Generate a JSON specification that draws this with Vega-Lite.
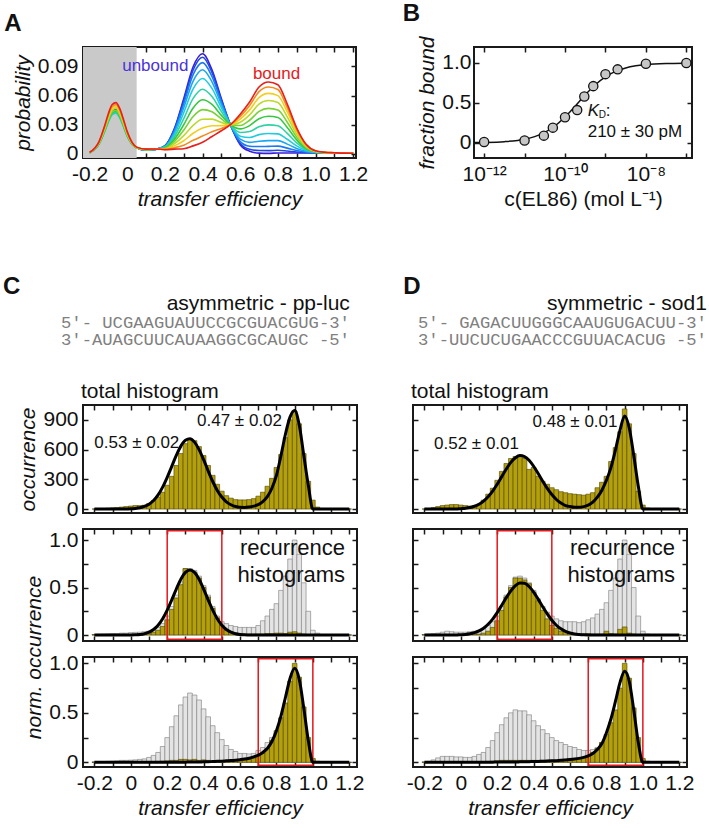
{
 "$schema": "https://vega.github.io/schema/vega-lite/v6.json",
 "background": "white",
 "padding": {"left": 2, "top": 0, "right": 3, "bottom": 3},
 "config": {
  "font": "Liberation Sans",
  "view": {"stroke": "#1a1a1a", "strokeWidth": 2},
  "axis": {"domain": false, "grid": false, "ticks": true, "tickSize": -5, "tickWidth": 1.5, "tickColor": "#1a1a1a",
   "labelFont": "Liberation Sans", "labelFontSize": 21, "labelColor": "#111", "labelFlush": false, "labelOverlap": false, "labelPadding": 10,
   "titleFont": "Liberation Sans", "titleFontSize": 21, "titleFontWeight": "normal", "titleFontStyle": "italic", "titleColor": "#111", "titlePadding": 4},
  "axisY": {"labelPadding": 10},
  "title": {"font": "Liberation Sans", "color": "#111"}
 },
 "datasets": {
  "acurves": [
   {"x":-0.2,"c01":0.0012,"c02":0.0012,"c03":0.0011,"c04":0.0011,"c05":0.0011,"c06":0.0011,"c07":0.0011,"c08":0.0012,"c09":0.0012,"c10":0.0013,"c11":0.0013,"c12":0.0014},
   {"x":-0.15,"c01":0.0109,"c02":0.0106,"c03":0.0104,"c04":0.0101,"c05":0.0099,"c06":0.0101,"c07":0.0104,"c08":0.0106,"c09":0.0111,"c10":0.0116,"c11":0.012,"c12":0.0125},
   {"x":-0.12,"c01":0.0251,"c02":0.0246,"c03":0.024,"c04":0.0235,"c05":0.0229,"c06":0.0235,"c07":0.024,"c08":0.0246,"c09":0.0257,"c10":0.0268,"c11":0.0278,"c12":0.0289},
   {"x":-0.1,"c01":0.036,"c02":0.0352,"c03":0.0345,"c04":0.0337,"c05":0.0329,"c06":0.0337,"c07":0.0345,"c08":0.0352,"c09":0.0368,"c10":0.0384,"c11":0.0399,"c12":0.0415},
   {"x":-0.08,"c01":0.044,"c02":0.043,"c03":0.0421,"c04":0.0411,"c05":0.0402,"c06":0.0411,"c07":0.0421,"c08":0.043,"c09":0.0449,"c10":0.0468,"c11":0.0488,"c12":0.0507},
   {"x":-0.06,"c01":0.0458,"c02":0.0448,"c03":0.0438,"c04":0.0428,"c05":0.0418,"c06":0.0428,"c07":0.0438,"c08":0.0448,"c09":0.0468,"c10":0.0488,"c11":0.0507,"c12":0.0527},
   {"x":-0.04,"c01":0.0406,"c02":0.0397,"c03":0.0388,"c04":0.0379,"c05":0.037,"c06":0.0379,"c07":0.0388,"c08":0.0397,"c09":0.0415,"c10":0.0432,"c11":0.045,"c12":0.0467},
   {"x":-0.02,"c01":0.0307,"c02":0.03,"c03":0.0293,"c04":0.0287,"c05":0.028,"c06":0.0287,"c07":0.0293,"c08":0.03,"c09":0.0313,"c10":0.0327,"c11":0.034,"c12":0.0354},
   {"x":0,"c01":0.0198,"c02":0.0194,"c03":0.0189,"c04":0.0185,"c05":0.0181,"c06":0.0185,"c07":0.0189,"c08":0.0194,"c09":0.0202,"c10":0.0211,"c11":0.0219,"c12":0.0228},
   {"x":0.05,"c01":0.0063,"c02":0.0062,"c03":0.0061,"c04":0.0061,"c05":0.006,"c06":0.0061,"c07":0.0061,"c08":0.0062,"c09":0.0063,"c10":0.0065,"c11":0.0066,"c12":0.0068},
   {"x":0.1,"c01":0.0037,"c02":0.0037,"c03":0.0038,"c04":0.0039,"c05":0.004,"c06":0.0041,"c07":0.0042,"c08":0.0043,"c09":0.0044,"c10":0.0045,"c11":0.0046,"c12":0.0047},
   {"x":0.15,"c01":0.0045,"c02":0.0045,"c03":0.0045,"c04":0.0046,"c05":0.0046,"c06":0.0047,"c07":0.0047,"c08":0.0047,"c09":0.0048,"c10":0.0048,"c11":0.0049,"c12":0.0049},
   {"x":0.2,"c01":0.0082,"c02":0.008,"c03":0.0078,"c04":0.0075,"c05":0.0071,"c06":0.0066,"c07":0.0061,"c08":0.0057,"c09":0.0052,"c10":0.0048,"c11":0.0044,"c12":0.0042},
   {"x":0.25,"c01":0.0257,"c02":0.0249,"c03":0.0236,"c04":0.0219,"c05":0.0198,"c06":0.0173,"c07":0.0148,"c08":0.0125,"c09":0.0102,"c10":0.0081,"c11":0.0062,"c12":0.0047},
   {"x":0.3,"c01":0.0567,"c02":0.0546,"c03":0.0516,"c04":0.0474,"c05":0.0423,"c06":0.0361,"c07":0.0299,"c08":0.0243,"c09":0.0186,"c10":0.0134,"c11":0.0088,"c12":0.0052},
   {"x":0.35,"c01":0.0896,"c02":0.0863,"c03":0.0815,"c04":0.0749,"c05":0.0668,"c06":0.057,"c07":0.0472,"c08":0.0383,"c09":0.0293,"c10":0.0211,"c11":0.0138,"c12":0.0081},
   {"x":0.4,"c01":0.103,"c02":0.0994,"c03":0.0939,"c04":0.0866,"c05":0.0775,"c06":0.0665,"c07":0.0556,"c08":0.0455,"c09":0.0355,"c10":0.0264,"c11":0.0182,"c12":0.0118},
   {"x":0.45,"c01":0.0865,"c02":0.0838,"c03":0.0796,"c04":0.0741,"c05":0.0673,"c06":0.059,"c07":0.0508,"c08":0.0432,"c09":0.0357,"c10":0.0288,"c11":0.0226,"c12":0.0178},
   {"x":0.5,"c01":0.0567,"c02":0.0554,"c03":0.0534,"c04":0.0508,"c05":0.0475,"c06":0.0435,"c07":0.0395,"c08":0.0359,"c09":0.0323,"c10":0.029,"c11":0.026,"c12":0.0237},
   {"x":0.55,"c01":0.0288,"c02":0.0289,"c03":0.029,"c04":0.0291,"c05":0.0292,"c06":0.0294,"c07":0.0296,"c08":0.0297,"c09":0.0299,"c10":0.03,"c11":0.0302,"c12":0.0303},
   {"x":0.6,"c01":0.0093,"c02":0.0106,"c03":0.0124,"c04":0.015,"c05":0.0181,"c06":0.0219,"c07":0.0256,"c08":0.0291,"c09":0.0325,"c10":0.0357,"c11":0.0385,"c12":0.0407},
   {"x":0.65,"c01":0.0026,"c02":0.0046,"c03":0.0077,"c04":0.0117,"c05":0.0168,"c06":0.0229,"c07":0.029,"c08":0.0345,"c09":0.0401,"c10":0.0452,"c11":0.0498,"c12":0.0533},
   {"x":0.7,"c01":0.0006,"c02":0.0033,"c03":0.0074,"c04":0.0129,"c05":0.0197,"c06":0.0279,"c07":0.0361,"c08":0.0436,"c09":0.0511,"c10":0.0579,"c11":0.064,"c12":0.0688},
   {"x":0.75,"c01":0.0004,"c02":0.0032,"c03":0.0076,"c04":0.0135,"c05":0.0209,"c06":0.0297,"c07":0.0386,"c08":0.0467,"c09":0.0548,"c10":0.0622,"c11":0.0688,"c12":0.074},
   {"x":0.8,"c01":0.0008,"c02":0.0036,"c03":0.0078,"c04":0.0135,"c05":0.0205,"c06":0.0289,"c07":0.0374,"c08":0.0451,"c09":0.0528,"c10":0.0599,"c11":0.0662,"c12":0.0711},
   {"x":0.85,"c01":0.0008,"c02":0.0028,"c03":0.0058,"c04":0.0099,"c05":0.0149,"c06":0.0209,"c07":0.027,"c08":0.0325,"c09":0.038,"c10":0.0431,"c11":0.0476,"c12":0.0511},
   {"x":0.9,"c01":0.0008,"c02":0.0018,"c03":0.0034,"c04":0.0055,"c05":0.0081,"c06":0.0112,"c07":0.0143,"c08":0.0171,"c09":0.02,"c10":0.0226,"c11":0.0249,"c12":0.0267},
   {"x":0.95,"c01":0.0008,"c02":0.0012,"c03":0.0017,"c04":0.0024,"c05":0.0033,"c06":0.0044,"c07":0.0054,"c08":0.0064,"c09":0.0074,"c10":0.0083,"c11":0.0091,"c12":0.0097},
   {"x":1.0,"c01":0.0008,"c02":0.0009,"c03":0.001,"c04":0.0012,"c05":0.0014,"c06":0.0017,"c07":0.0019,"c08":0.0022,"c09":0.0024,"c10":0.0026,"c11":0.0028,"c12":0.003},
   {"x":1.05,"c01":0.0007,"c02":0.0007,"c03":0.0008,"c04":0.0008,"c05":0.0009,"c06":0.001,"c07":0.0011,"c08":0.0012,"c09":0.0012,"c10":0.0013,"c11":0.0014,"c12":0.0015},
   {"x":1.1,"c01":0.0006,"c02":0.0006,"c03":0.0006,"c04":0.0007,"c05":0.0007,"c06":0.0007,"c07":0.0008,"c08":0.0008,"c09":0.0009,"c10":0.0009,"c11":0.001,"c12":0.001},
   {"x":1.15,"c01":0.0006,"c02":0.0006,"c03":0.0006,"c04":0.0006,"c05":0.0006,"c06":0.0006,"c07":0.0006,"c08":0.0006,"c09":0.0006,"c10":0.0006,"c11":0.0006,"c12":0.0006},
   {"x":1.2,"c01":0.0005,"c02":0.0005,"c03":0.0005,"c04":0.0005,"c05":0.0005,"c06":0.0005,"c07":0.0005,"c08":0.0005,"c09":0.0005,"c10":0.0005,"c11":0.0005,"c12":0.0005}
  ],
  "bpts": [
   {"c":1e-12,"f":0.01},{"c":1e-11,"f":0.03},{"c":3e-11,"f":0.09},{"c":5e-11,"f":0.19},{"c":1e-10,"f":0.32},{"c":2e-10,"f":0.41},
   {"c":3e-10,"f":0.58},{"c":5e-10,"f":0.71},{"c":1e-9,"f":0.86},{"c":2e-9,"f":0.92},{"c":1e-8,"f":0.99},{"c":1e-7,"f":1.0}
  ],
  "bfit": [
   {"c":5.62e-13,"f":0.0027},{"c":1e-12,"f":0.0047},{"c":3.16e-12,"f":0.0148},{"c":1e-11,"f":0.0455},{"c":1.78e-11,"f":0.078},
   {"c":3.16e-11,"f":0.131},{"c":5.62e-11,"f":0.211},{"c":1e-10,"f":0.323},{"c":1.78e-10,"f":0.459},{"c":3.16e-10,"f":0.601},
   {"c":5.62e-10,"f":0.728},{"c":1e-9,"f":0.826},{"c":1.78e-9,"f":0.894},{"c":3.16e-9,"f":0.938},{"c":5.62e-9,"f":0.964},
   {"c":1e-8,"f":0.979},{"c":3.16e-8,"f":0.9934},{"c":1e-7,"f":0.9979},{"c":1.38e-7,"f":0.9985}
  ],
  "ch": [
   {"x":-0.2,"t":0,"tf":0,"mg":0.005,"ma":0.003,"mf":0,"bg":0.005,"ba":0.002,"bf":0},
   {"x":-0.175,"t":2,"tf":0,"mg":0.008,"ma":0.003,"mf":0,"bg":0.005,"ba":0.002,"bf":0},
   {"x":-0.15,"t":5,"tf":0,"mg":0.01,"ma":0.004,"mf":0,"bg":0.008,"ba":0.002,"bf":0},
   {"x":-0.125,"t":8,"tf":0,"mg":0.012,"ma":0.004,"mf":0,"bg":0.01,"ba":0.003,"bf":0},
   {"x":-0.1,"t":12,"tf":0,"mg":0.015,"ma":0.005,"mf":0,"bg":0.012,"ba":0.003,"bf":0},
   {"x":-0.075,"t":15,"tf":0,"mg":0.015,"ma":0.005,"mf":0,"bg":0.015,"ba":0.003,"bf":0},
   {"x":-0.05,"t":20,"tf":0,"mg":0.02,"ma":0.005,"mf":0,"bg":0.02,"ba":0.004,"bf":0},
   {"x":-0.025,"t":25,"tf":0,"mg":0.02,"ma":0.006,"mf":0,"bg":0.02,"ba":0.004,"bf":0},
   {"x":0,"t":30,"tf":2,"mg":0.025,"ma":0.006,"mf":0.001,"bg":0.022,"ba":0.004,"bf":0},
   {"x":0.025,"t":35,"tf":6,"mg":0.028,"ma":0.007,"mf":0.003,"bg":0.025,"ba":0.005,"bf":0},
   {"x":0.05,"t":35,"tf":13,"mg":0.03,"ma":0.008,"mf":0.006,"bg":0.03,"ba":0.005,"bf":0},
   {"x":0.075,"t":38,"tf":26,"mg":0.035,"ma":0.01,"mf":0.014,"bg":0.035,"ba":0.005,"bf":0},
   {"x":0.1,"t":55,"tf":49,"mg":0.04,"ma":0.015,"mf":0.03,"bg":0.05,"ba":0.006,"bf":0},
   {"x":0.125,"t":85,"tf":86,"mg":0.05,"ma":0.03,"mf":0.058,"bg":0.07,"ba":0.008,"bf":0},
   {"x":0.15,"t":120,"tf":143,"mg":0.08,"ma":0.05,"mf":0.103,"bg":0.1,"ba":0.01,"bf":0},
   {"x":0.175,"t":170,"tf":221,"mg":0.12,"ma":0.09,"mf":0.171,"bg":0.16,"ba":0.012,"bf":0},
   {"x":0.2,"t":240,"tf":320,"mg":0.2,"ma":0.16,"mf":0.261,"bg":0.25,"ba":0.015,"bf":0.001},
   {"x":0.225,"t":330,"tf":431,"mg":0.3,"ma":0.27,"mf":0.37,"bg":0.36,"ba":0.02,"bf":0.001},
   {"x":0.25,"t":440,"tf":541,"mg":0.42,"ma":0.39,"mf":0.484,"bg":0.47,"ba":0.02,"bf":0.002},
   {"x":0.275,"t":560,"tf":635,"mg":0.56,"ma":0.53,"mf":0.587,"bg":0.58,"ba":0.03,"bf":0.002},
   {"x":0.3,"t":660,"tf":694,"mg":0.7,"ma":0.7,"mf":0.659,"bg":0.66,"ba":0.03,"bf":0.002},
   {"x":0.325,"t":710,"tf":709,"mg":0.7,"ma":0.68,"mf":0.685,"bg":0.7,"ba":0.025,"bf":0.003},
   {"x":0.35,"t":690,"tf":675,"mg":0.68,"ma":0.66,"mf":0.659,"bg":0.68,"ba":0.03,"bf":0.003},
   {"x":0.375,"t":630,"tf":600,"mg":0.62,"ma":0.6,"mf":0.587,"bg":0.63,"ba":0.02,"bf":0.004},
   {"x":0.4,"t":540,"tf":498,"mg":0.52,"ma":0.5,"mf":0.484,"bg":0.54,"ba":0.025,"bf":0.005},
   {"x":0.425,"t":440,"tf":385,"mg":0.42,"ma":0.4,"mf":0.37,"bg":0.46,"ba":0.02,"bf":0.006},
   {"x":0.45,"t":340,"tf":278,"mg":0.3,"ma":0.28,"mf":0.261,"bg":0.37,"ba":0.015,"bf":0.008},
   {"x":0.475,"t":250,"tf":188,"mg":0.2,"ma":0.18,"mf":0.171,"bg":0.3,"ba":0.015,"bf":0.01},
   {"x":0.5,"t":180,"tf":121,"mg":0.14,"ma":0.1,"mf":0.103,"bg":0.23,"ba":0.015,"bf":0.012},
   {"x":0.525,"t":135,"tf":73,"mg":0.12,"ma":0.05,"mf":0.058,"bg":0.17,"ba":0.015,"bf":0.015},
   {"x":0.55,"t":110,"tf":43,"mg":0.1,"ma":0.03,"mf":0.03,"bg":0.13,"ba":0.018,"bf":0.018},
   {"x":0.575,"t":95,"tf":25,"mg":0.09,"ma":0.02,"mf":0.014,"bg":0.11,"ba":0.02,"bf":0.022},
   {"x":0.6,"t":92,"tf":17,"mg":0.08,"ma":0.015,"mf":0.006,"bg":0.09,"ba":0.02,"bf":0.027},
   {"x":0.625,"t":92,"tf":16,"mg":0.08,"ma":0.01,"mf":0.002,"bg":0.09,"ba":0.025,"bf":0.033},
   {"x":0.65,"t":95,"tf":20,"mg":0.08,"ma":0.01,"mf":0,"bg":0.085,"ba":0.03,"bf":0.042},
   {"x":0.675,"t":105,"tf":29,"mg":0.08,"ma":0.01,"mf":0,"bg":0.09,"ba":0.04,"bf":0.055},
   {"x":0.7,"t":130,"tf":45,"mg":0.1,"ma":0.01,"mf":0,"bg":0.12,"ba":0.06,"bf":0.072},
   {"x":0.725,"t":170,"tf":75,"mg":0.15,"ma":0.01,"mf":0,"bg":0.15,"ba":0.09,"bf":0.1},
   {"x":0.75,"t":230,"tf":125,"mg":0.2,"ma":0.015,"mf":0,"bg":0.2,"ba":0.14,"bf":0.14},
   {"x":0.775,"t":310,"tf":210,"mg":0.27,"ma":0.015,"mf":0,"bg":0.25,"ba":0.22,"bf":0.21},
   {"x":0.8,"t":420,"tf":340,"mg":0.33,"ma":0.02,"mf":0,"bg":0.3,"ba":0.32,"bf":0.32},
   {"x":0.825,"t":550,"tf":540,"mg":0.47,"ma":0.02,"mf":0,"bg":0.4,"ba":0.45,"bf":0.47},
   {"x":0.85,"t":720,"tf":760,"mg":0.62,"ma":0.015,"mf":0,"bg":0.45,"ba":0.6,"bf":0.66},
   {"x":0.875,"t":900,"tf":930,"mg":0.8,"ma":0.03,"mf":0,"bg":0.45,"ba":0.82,"bf":0.85},
   {"x":0.9,"t":990,"tf":995,"mg":1.0,"ma":0.035,"mf":0,"bg":0.4,"ba":1.0,"bf":0.95},
   {"x":0.925,"t":860,"tf":850,"mg":0.85,"ma":0.02,"mf":0,"bg":0.3,"ba":0.86,"bf":0.84},
   {"x":0.95,"t":560,"tf":545,"mg":0.55,"ma":0.01,"mf":0,"bg":0.2,"ba":0.56,"bf":0.55},
   {"x":0.975,"t":280,"tf":240,"mg":0.25,"ma":0.005,"mf":0,"bg":0.1,"ba":0.25,"bf":0.22},
   {"x":1.0,"t":90,"tf":0,"mg":0.05,"ma":0.002,"mf":0,"bg":0.03,"ba":0.04,"bf":0},
   {"x":1.025,"t":20,"tf":0,"mg":0.02,"ma":0,"mf":0,"bg":0.01,"ba":0.01,"bf":0},
   {"x":1.05,"t":5,"tf":0,"mg":0.005,"ma":0,"mf":0,"bg":0,"ba":0,"bf":0},
   {"x":1.075,"t":0,"tf":0,"mg":0,"ma":0,"mf":0,"bg":0,"ba":0,"bf":0},
   {"x":1.1,"t":0,"tf":0,"mg":0,"ma":0,"mf":0,"bg":0,"ba":0,"bf":0},
   {"x":1.125,"t":0,"tf":0,"mg":0,"ma":0,"mf":0,"bg":0,"ba":0,"bf":0},
   {"x":1.15,"t":0,"tf":0,"mg":0,"ma":0,"mf":0,"bg":0,"ba":0,"bf":0},
   {"x":1.175,"t":0,"tf":0,"mg":0,"ma":0,"mf":0,"bg":0,"ba":0,"bf":0},
   {"x":1.2,"t":0,"tf":0,"mg":0,"ma":0,"mf":0,"bg":0,"ba":0,"bf":0}
  ],
  "dh": [
   {"x":-0.2,"t":0,"tf":0,"mg":0.005,"ma":0.003,"mf":0,"bg":0.005,"ba":0.002,"bf":0},
   {"x":-0.175,"t":5,"tf":0,"mg":0.01,"ma":0.003,"mf":0,"bg":0.01,"ba":0.002,"bf":0},
   {"x":-0.15,"t":15,"tf":0,"mg":0.015,"ma":0.004,"mf":0,"bg":0.025,"ba":0.003,"bf":0},
   {"x":-0.125,"t":25,"tf":0,"mg":0.02,"ma":0.004,"mf":0,"bg":0.045,"ba":0.003,"bf":0},
   {"x":-0.1,"t":35,"tf":0,"mg":0.03,"ma":0.005,"mf":0,"bg":0.06,"ba":0.004,"bf":0},
   {"x":-0.075,"t":40,"tf":0,"mg":0.04,"ma":0.005,"mf":0,"bg":0.06,"ba":0.004,"bf":0},
   {"x":-0.05,"t":45,"tf":0,"mg":0.035,"ma":0.005,"mf":0,"bg":0.06,"ba":0.004,"bf":0},
   {"x":-0.025,"t":45,"tf":0,"mg":0.03,"ma":0.005,"mf":0,"bg":0.055,"ba":0.004,"bf":0},
   {"x":0,"t":40,"tf":4,"mg":0.03,"ma":0.005,"mf":0.003,"bg":0.055,"ba":0.004,"bf":0},
   {"x":0.025,"t":35,"tf":8,"mg":0.03,"ma":0.006,"mf":0.006,"bg":0.05,"ba":0.005,"bf":0},
   {"x":0.05,"t":30,"tf":15,"mg":0.035,"ma":0.006,"mf":0.013,"bg":0.05,"ba":0.005,"bf":0},
   {"x":0.075,"t":35,"tf":28,"mg":0.04,"ma":0.008,"mf":0.025,"bg":0.06,"ba":0.005,"bf":0},
   {"x":0.1,"t":50,"tf":49,"mg":0.05,"ma":0.01,"mf":0.043,"bg":0.08,"ba":0.006,"bf":0.001},
   {"x":0.125,"t":90,"tf":80,"mg":0.07,"ma":0.02,"mf":0.071,"bg":0.1,"ba":0.008,"bf":0.001},
   {"x":0.15,"t":150,"tf":124,"mg":0.1,"ma":0.04,"mf":0.113,"bg":0.15,"ba":0.01,"bf":0.002},
   {"x":0.175,"t":210,"tf":181,"mg":0.14,"ma":0.08,"mf":0.168,"bg":0.22,"ba":0.012,"bf":0.002},
   {"x":0.2,"t":290,"tf":250,"mg":0.2,"ma":0.15,"mf":0.236,"bg":0.3,"ba":0.015,"bf":0.003},
   {"x":0.225,"t":380,"tf":327,"mg":0.3,"ma":0.26,"mf":0.314,"bg":0.38,"ba":0.02,"bf":0.003},
   {"x":0.25,"t":460,"tf":404,"mg":0.42,"ma":0.4,"mf":0.394,"bg":0.45,"ba":0.02,"bf":0.004},
   {"x":0.275,"t":510,"tf":471,"mg":0.52,"ma":0.5,"mf":0.465,"bg":0.5,"ba":0.02,"bf":0.004},
   {"x":0.3,"t":530,"tf":518,"mg":0.61,"ma":0.6,"mf":0.52,"bg":0.53,"ba":0.02,"bf":0.004},
   {"x":0.325,"t":540,"tf":540,"mg":0.62,"ma":0.6,"mf":0.547,"bg":0.52,"ba":0.02,"bf":0.005},
   {"x":0.35,"t":510,"tf":530,"mg":0.6,"ma":0.58,"mf":0.544,"bg":0.52,"ba":0.02,"bf":0.006},
   {"x":0.375,"t":400,"tf":493,"mg":0.55,"ma":0.54,"mf":0.511,"bg":0.48,"ba":0.02,"bf":0.007},
   {"x":0.4,"t":420,"tf":432,"mg":0.47,"ma":0.45,"mf":0.452,"bg":0.42,"ba":0.02,"bf":0.008},
   {"x":0.425,"t":330,"tf":358,"mg":0.38,"ma":0.36,"mf":0.378,"bg":0.37,"ba":0.02,"bf":0.009},
   {"x":0.45,"t":280,"tf":281,"mg":0.3,"ma":0.26,"mf":0.298,"bg":0.33,"ba":0.02,"bf":0.011},
   {"x":0.475,"t":250,"tf":208,"mg":0.24,"ma":0.17,"mf":0.222,"bg":0.29,"ba":0.02,"bf":0.013},
   {"x":0.5,"t":215,"tf":146,"mg":0.2,"ma":0.1,"mf":0.156,"bg":0.25,"ba":0.02,"bf":0.015},
   {"x":0.525,"t":195,"tf":96,"mg":0.17,"ma":0.07,"mf":0.103,"bg":0.22,"ba":0.02,"bf":0.017},
   {"x":0.55,"t":175,"tf":60,"mg":0.15,"ma":0.04,"mf":0.065,"bg":0.2,"ba":0.025,"bf":0.02},
   {"x":0.575,"t":165,"tf":35,"mg":0.14,"ma":0.035,"mf":0.038,"bg":0.18,"ba":0.025,"bf":0.024},
   {"x":0.6,"t":155,"tf":25,"mg":0.14,"ma":0.02,"mf":0.021,"bg":0.16,"ba":0.03,"bf":0.028},
   {"x":0.625,"t":150,"tf":18,"mg":0.14,"ma":0.01,"mf":0.011,"bg":0.15,"ba":0.035,"bf":0.033},
   {"x":0.65,"t":145,"tf":18,"mg":0.13,"ma":0.01,"mf":0.006,"bg":0.13,"ba":0.04,"bf":0.04},
   {"x":0.675,"t":140,"tf":24,"mg":0.14,"ma":0.01,"mf":0.003,"bg":0.12,"ba":0.05,"bf":0.05},
   {"x":0.7,"t":150,"tf":39,"mg":0.16,"ma":0.015,"mf":0.001,"bg":0.12,"ba":0.07,"bf":0.065},
   {"x":0.725,"t":165,"tf":70,"mg":0.18,"ma":0.01,"mf":0,"bg":0.13,"ba":0.1,"bf":0.09},
   {"x":0.75,"t":215,"tf":120,"mg":0.22,"ma":0.01,"mf":0,"bg":0.15,"ba":0.14,"bf":0.13},
   {"x":0.775,"t":270,"tf":190,"mg":0.27,"ma":0.01,"mf":0,"bg":0.2,"ba":0.2,"bf":0.19},
   {"x":0.8,"t":330,"tf":290,"mg":0.34,"ma":0.04,"mf":0,"bg":0.26,"ba":0.28,"bf":0.3},
   {"x":0.825,"t":480,"tf":420,"mg":0.47,"ma":0.015,"mf":0,"bg":0.3,"ba":0.4,"bf":0.44},
   {"x":0.85,"t":620,"tf":600,"mg":0.6,"ma":0.01,"mf":0,"bg":0.3,"ba":0.53,"bf":0.62},
   {"x":0.875,"t":780,"tf":800,"mg":0.8,"ma":0.06,"mf":0,"bg":0.3,"ba":0.75,"bf":0.81},
   {"x":0.9,"t":1010,"tf":940,"mg":1.0,"ma":0.085,"mf":0,"bg":0.3,"ba":1.0,"bf":0.92},
   {"x":0.925,"t":860,"tf":820,"mg":0.85,"ma":0.02,"mf":0,"bg":0.25,"ba":0.85,"bf":0.82},
   {"x":0.95,"t":560,"tf":540,"mg":0.5,"ma":0.01,"mf":0,"bg":0.2,"ba":0.55,"bf":0.53},
   {"x":0.975,"t":180,"tf":230,"mg":0.2,"ma":0.005,"mf":0,"bg":0.1,"ba":0.25,"bf":0.2},
   {"x":1.0,"t":40,"tf":0,"mg":0.04,"ma":0,"mf":0,"bg":0.03,"ba":0.04,"bf":0},
   {"x":1.025,"t":10,"tf":0,"mg":0.01,"ma":0,"mf":0,"bg":0.01,"ba":0.01,"bf":0},
   {"x":1.05,"t":0,"tf":0,"mg":0,"ma":0,"mf":0,"bg":0,"ba":0,"bf":0},
   {"x":1.075,"t":0,"tf":0,"mg":0,"ma":0,"mf":0,"bg":0,"ba":0,"bf":0},
   {"x":1.1,"t":0,"tf":0,"mg":0,"ma":0,"mf":0,"bg":0,"ba":0,"bf":0},
   {"x":1.125,"t":0,"tf":0,"mg":0,"ma":0,"mf":0,"bg":0,"ba":0,"bf":0},
   {"x":1.15,"t":0,"tf":0,"mg":0,"ma":0,"mf":0,"bg":0,"ba":0,"bf":0},
   {"x":1.175,"t":0,"tf":0,"mg":0,"ma":0,"mf":0,"bg":0,"ba":0,"bf":0},
   {"x":1.2,"t":0,"tf":0,"mg":0,"ma":0,"mf":0,"bg":0,"ba":0,"bf":0}
  ]
 },
 "spacing": 64,
 "vconcat": [
  {
   "spacing": 32,
   "hconcat": [
    {
     "width": 273, "height": 111,
     "title": {"text": "A", "anchor": "start", "frame": "bounds", "fontSize": 24, "fontWeight": "bold", "offset": 10, "dx": -8},
     "layer": [
      {"data": {"values": [{"lo": -0.235, "hi": 0.05}]},
       "mark": {"type": "rect", "color": "#c9c9c9"},
       "encoding": {
        "x": {"field": "lo", "type": "quantitative", "scale": {"domain": [-0.235, 1.215], "nice": false, "zero": false},
              "axis": {"orient": "bottom", "values": [-0.2,-0.1,0,0.1,0.2,0.3,0.4,0.5,0.6,0.7,0.8,0.9,1,1.1,1.2], "labelExpr": "abs(datum.value + 0.2) < 0.001 ? '-0.2' : abs(datum.value) < 0.001 ? '0' : (round(datum.value * 10) % 2 == 0 ? format(datum.value, '.1f') : '')", "title": "transfer efficiency"}},
        "x2": {"field": "hi"}}},
      {"data": {"name": "acurves"},
       "transform": [{"fold": ["c01","c02","c03","c04","c05","c06","c07","c08","c09","c10","c11","c12"], "as": ["curve", "p"]}],
       "mark": {"type": "line", "strokeWidth": 1.6, "interpolate": "monotone"},
       "encoding": {
        "x": {"field": "x", "type": "quantitative", "scale": {"domain": [-0.235, 1.215], "nice": false, "zero": false},
              "axis": {"orient": "top", "values": [-0.2,-0.1,0,0.1,0.2,0.3,0.4,0.5,0.6,0.7,0.8,0.9,1,1.1,1.2], "labels": false, "title": null}},
        "y": {"field": "p", "type": "quantitative", "scale": {"domain": [-0.0044, 0.11], "nice": false, "zero": false},
              "axis": {"orient": "left", "values": [0, 0.03, 0.06, 0.09], "labelExpr": "datum.value == 0 ? '0' : format(datum.value, '.2f')", "title": "probability"}},
        "color": {"field": "curve", "type": "nominal", "legend": null,
                  "scale": {"domain": ["c01","c02","c03","c04","c05","c06","c07","c08","c09","c10","c11","c12"],
                            "range": ["#3b1fd6","#1f46e8","#1e78f0","#1aa6f2","#22ccde","#2fd3a6","#35c940","#78d234","#bcd92c","#f2cf1f","#f58a1c","#e5201e"]}}}},
      {"data": {"values": [{"x": 0.149, "y": 0.0907, "t": "unbound"}]},
       "mark": {"type": "text", "fontSize": 17, "color": "#4a33d9", "align": "center", "baseline": "middle"},
       "encoding": {
        "x": {"field": "x", "type": "quantitative", "scale": {"domain": [-0.235, 1.215], "nice": false, "zero": false}, "axis": null},
        "y": {"field": "y", "type": "quantitative", "scale": {"domain": [-0.0044, 0.11], "nice": false, "zero": false},
              "axis": {"orient": "right", "values": [0, 0.03, 0.06, 0.09], "labels": false, "title": null}},
        "text": {"field": "t"}}},
      {"data": {"values": [{"x": 0.793, "y": 0.0825, "t": "bound"}]},
       "mark": {"type": "text", "fontSize": 17, "color": "#e5201e", "align": "center", "baseline": "middle"},
       "encoding": {
        "x": {"field": "x", "type": "quantitative", "scale": {"domain": [-0.235, 1.215], "nice": false, "zero": false}, "axis": null},
        "y": {"field": "y", "type": "quantitative", "scale": {"domain": [-0.0044, 0.11], "nice": false, "zero": false}, "axis": null},
        "text": {"field": "t"}}}
     ]
    },
    {
     "width": 218, "height": 111,
     "title": {"text": "B", "anchor": "start", "frame": "bounds", "fontSize": 24, "fontWeight": "bold", "offset": 10, "dx": -14},
     "layer": [
      {"data": {"name": "bfit"},
       "mark": {"type": "line", "color": "#111", "strokeWidth": 1.5, "interpolate": "monotone"},
       "encoding": {
        "x": {"field": "c", "type": "quantitative", "scale": {"type": "log", "domain": [5.62e-13, 1.38e-7], "nice": false},
              "axis": {"orient": "top", "values": [1e-12,1e-11,1e-10,1e-9,1e-8,1e-7], "labels": false, "title": null}},
        "y": {"field": "f", "type": "quantitative", "scale": {"domain": [-0.19, 1.2], "nice": false, "zero": false},
              "axis": {"orient": "right", "values": [0, 0.5, 1], "labels": false, "title": null}}}},
      {"data": {"name": "bpts"},
       "mark": {"type": "point", "shape": "circle", "filled": true, "size": 85, "fill": "#c6c6c6", "stroke": "#111", "strokeWidth": 1.3, "opacity": 1},
       "encoding": {
        "x": {"field": "c", "type": "quantitative", "scale": {"type": "log", "domain": [5.62e-13, 1.38e-7], "nice": false},
              "axis": {"orient": "bottom", "values": [1e-12,1e-11,1e-10,1e-9,1e-8,1e-7], "labelExpr": "round(log(datum.value)/LN10) == -12 ? '10⁻¹²' : round(log(datum.value)/LN10) == -10 ? '10⁻¹⁰' : round(log(datum.value)/LN10) == -8 ? '10⁻⁸' : ''", "title": "c(EL86) (mol L⁻¹)", "titleFontStyle": "normal"}},
        "y": {"field": "f", "type": "quantitative", "scale": {"domain": [-0.19, 1.2], "nice": false, "zero": false},
              "axis": {"orient": "left", "values": [0, 0.5, 1], "labelExpr": "datum.value == 0 ? '0' : format(datum.value, '.1f')", "title": "fraction bound", "labelPadding": 8}}}},
      {"data": {"values": [{"c": 3.64e-10, "f": 0.404, "t": "K"}]},
       "mark": {"type": "text", "fontSize": 17, "fontStyle": "italic", "align": "left", "baseline": "middle", "color": "#111"},
       "encoding": {
        "x": {"field": "c", "type": "quantitative", "scale": {"type": "log", "domain": [5.62e-13, 1.38e-7], "nice": false}, "axis": null},
        "y": {"field": "f", "type": "quantitative", "scale": {"domain": [-0.19, 1.2], "nice": false, "zero": false}, "axis": null},
        "text": {"field": "t"}}},
      {"data": {"values": [{"c": 6.8e-10, "f": 0.35, "t": "D"}]},
       "mark": {"type": "text", "fontSize": 10, "align": "left", "baseline": "middle", "color": "#111"},
       "encoding": {
        "x": {"field": "c", "type": "quantitative", "scale": {"type": "log", "domain": [5.62e-13, 1.38e-7], "nice": false}, "axis": null},
        "y": {"field": "f", "type": "quantitative", "scale": {"domain": [-0.19, 1.2], "nice": false, "zero": false}, "axis": null},
        "text": {"field": "t"}}},
      {"data": {"values": [{"c": 1.01e-9, "f": 0.404, "t": ":"}, {"c": 3.64e-10, "f": 0.139, "t": "210 ± 30 pM"}]},
       "mark": {"type": "text", "fontSize": 17, "align": "left", "baseline": "middle", "color": "#111"},
       "encoding": {
        "x": {"field": "c", "type": "quantitative", "scale": {"type": "log", "domain": [5.62e-13, 1.38e-7], "nice": false}, "axis": null},
        "y": {"field": "f", "type": "quantitative", "scale": {"domain": [-0.19, 1.2], "nice": false, "zero": false}, "axis": null},
        "text": {"field": "t"}}}
     ]
    }
   ]
  },
  {
   "spacing": 38,
   "hconcat": [
    {
     "title": {"text": "C", "anchor": "start", "frame": "bounds", "fontSize": 24, "fontWeight": "bold", "offset": -6, "dx": -14},
     "vconcat": [
      {
       "title": {"text": "asymmetric - pp-luc", "subtitle": ["5′-  UCGAAGUAUUCCGCGUACGUG-3′", "3′-AUAGCUUCAUAAGGCGCAUGC  -5′"],
                 "anchor": "end", "frame": "bounds", "fontSize": 21, "fontWeight": "normal", "color": "#111",
                 "subtitleFont": "Liberation Mono", "subtitleFontSize": 17.2, "subtitleColor": "#808080", "subtitleLineHeight": 17.5, "subtitlePadding": 0,
                 "offset": 32, "dx": -15},
       "bounds": "flush",
       "spacing": 16,
       "vconcat": [
        {
         "width": 274, "height": 108,
         "title": {"text": "total histogram", "anchor": "start", "frame": "group", "fontSize": 21, "fontWeight": "normal", "offset": 2, "dx": -2},
         "data": {"name": "ch"},
         "layer": [
          {"mark": {"type": "bar", "orient": "vertical", "size": 4.7, "color": "#b4a00c", "stroke": "#4d4400", "strokeWidth": 0.6},
           "encoding": {
            "x": {"field": "x", "type": "quantitative", "scale": {"domain": [-0.235, 1.215], "nice": false, "zero": false},
                  "axis": {"orient": "bottom", "values": [-0.2,-0.1,0,0.1,0.2,0.3,0.4,0.5,0.6,0.7,0.8,0.9,1,1.1,1.2], "labels": false, "title": null}},
            "y": {"field": "t", "type": "quantitative", "stack": null, "scale": {"domain": [-40, 1050], "nice": false, "zero": false},
                  "axis": {"orient": "left", "values": [0, 300, 600, 900], "title": "occurrence"}}}},
          {"mark": {"type": "line", "color": "#000", "strokeWidth": 3, "interpolate": "monotone"},
           "encoding": {
            "x": {"field": "x", "type": "quantitative", "scale": {"domain": [-0.235, 1.215], "nice": false, "zero": false},
                  "axis": {"orient": "top", "values": [-0.2,-0.1,0,0.1,0.2,0.3,0.4,0.5,0.6,0.7,0.8,0.9,1,1.1,1.2], "labels": false, "title": null}},
            "y": {"field": "tf", "type": "quantitative", "scale": {"domain": [-40, 1050], "nice": false, "zero": false},
                  "axis": {"orient": "right", "values": [0, 300, 600, 900], "labels": false, "title": null}}}},
          {"data": {"values": [{"x": -0.2, "y": 664, "t": "0.53 ± 0.02"}, {"x": 0.364, "y": 893, "t": "0.47 ± 0.02"}]},
           "mark": {"type": "text", "fontSize": 17, "align": "left", "baseline": "middle", "color": "#111"},
           "encoding": {
            "x": {"field": "x", "type": "quantitative", "scale": {"domain": [-0.235, 1.215], "nice": false, "zero": false}, "axis": null},
            "y": {"field": "y", "type": "quantitative", "scale": {"domain": [-40, 1050], "nice": false, "zero": false}, "axis": null},
            "text": {"field": "t"}}}
         ]
        },
        {
         "width": 274, "height": 112,
         "data": {"name": "ch"},
         "layer": [
          {"mark": {"type": "bar", "orient": "vertical", "size": 4.7, "color": "#e4e4e4", "stroke": "#7a7a7a", "strokeWidth": 0.6},
           "encoding": {
            "x": {"field": "x", "type": "quantitative", "scale": {"domain": [-0.235, 1.215], "nice": false, "zero": false},
                  "axis": {"orient": "bottom", "values": [-0.2,-0.1,0,0.1,0.2,0.3,0.4,0.5,0.6,0.7,0.8,0.9,1,1.1,1.2], "labels": false, "title": null}},
            "y": {"field": "mg", "type": "quantitative", "stack": null, "scale": {"domain": [-0.063, 1.116], "nice": false, "zero": false},
                  "axis": {"orient": "left", "values": [0, 0.25, 0.5, 0.75, 1], "labelExpr": "datum.value == 0 ? '0' : (datum.value == 0.5 || datum.value == 1) ? format(datum.value, '.1f') : ''", "title": null}}}},
          {"mark": {"type": "bar", "orient": "vertical", "size": 4.7, "color": "#b4a00c", "stroke": "#4d4400", "strokeWidth": 0.6},
           "encoding": {
            "x": {"field": "x", "type": "quantitative", "scale": {"domain": [-0.235, 1.215], "nice": false, "zero": false}, "axis": null},
            "y": {"field": "ma", "type": "quantitative", "stack": null, "scale": {"domain": [-0.063, 1.116], "nice": false, "zero": false}, "axis": null}}},
          {"data": {"values": [{"lo": 0.2, "hi": 0.5, "b": -0.045, "t": 1.097}]},
           "mark": {"type": "rect", "fill": "#ffffff", "fillOpacity": 0, "stroke": "#e5181c", "strokeWidth": 1.5},
           "encoding": {
            "x": {"field": "lo", "type": "quantitative", "scale": {"domain": [-0.235, 1.215], "nice": false, "zero": false}, "axis": null},
            "x2": {"field": "hi"},
            "y": {"field": "b", "type": "quantitative", "scale": {"domain": [-0.063, 1.116], "nice": false, "zero": false}, "axis": null},
            "y2": {"field": "t"}}},
          {"mark": {"type": "line", "color": "#000", "strokeWidth": 3, "interpolate": "monotone"},
           "encoding": {
            "x": {"field": "x", "type": "quantitative", "scale": {"domain": [-0.235, 1.215], "nice": false, "zero": false},
                  "axis": {"orient": "top", "values": [-0.2,-0.1,0,0.1,0.2,0.3,0.4,0.5,0.6,0.7,0.8,0.9,1,1.1,1.2], "labels": false, "title": null}},
            "y": {"field": "mf", "type": "quantitative", "scale": {"domain": [-0.063, 1.116], "nice": false, "zero": false},
                  "axis": {"orient": "right", "values": [0, 0.25, 0.5, 0.75, 1], "labels": false, "title": null}}}},
          {"data": {"values": [{"x": 1.177, "y": 0.915, "t": "recurrence"}, {"x": 1.177, "y": 0.63, "t": "histograms"}]},
           "mark": {"type": "text", "fontSize": 22, "align": "right", "baseline": "middle", "color": "#111"},
           "encoding": {
            "x": {"field": "x", "type": "quantitative", "scale": {"domain": [-0.235, 1.215], "nice": false, "zero": false}, "axis": null},
            "y": {"field": "y", "type": "quantitative", "scale": {"domain": [-0.063, 1.116], "nice": false, "zero": false}, "axis": null},
            "text": {"field": "t"}}}
         ]
        },
        {
         "width": 274, "height": 110,
         "data": {"name": "ch"},
         "layer": [
          {"mark": {"type": "bar", "orient": "vertical", "size": 4.7, "color": "#e4e4e4", "stroke": "#7a7a7a", "strokeWidth": 0.6},
           "encoding": {
            "x": {"field": "x", "type": "quantitative", "scale": {"domain": [-0.235, 1.215], "nice": false, "zero": false},
                  "axis": {"orient": "bottom", "values": [-0.2,-0.1,0,0.1,0.2,0.3,0.4,0.5,0.6,0.7,0.8,0.9,1,1.1,1.2], "labelExpr": "abs(datum.value + 0.2) < 0.001 ? '-0.2' : abs(datum.value) < 0.001 ? '0' : (round(datum.value * 10) % 2 == 0 ? format(datum.value, '.1f') : '')", "title": "transfer efficiency"}},
            "y": {"field": "bg", "type": "quantitative", "stack": null, "scale": {"domain": [-0.047, 1.064], "nice": false, "zero": false},
                  "axis": {"orient": "left", "values": [0, 0.25, 0.5, 0.75, 1], "labelExpr": "datum.value == 0 ? '0' : (datum.value == 0.5 || datum.value == 1) ? format(datum.value, '.1f') : ''", "title": "norm. occurrence", "titleAnchor": "end", "titleAlign": "center"}}}},
          {"mark": {"type": "bar", "orient": "vertical", "size": 4.7, "color": "#b4a00c", "stroke": "#4d4400", "strokeWidth": 0.6},
           "encoding": {
            "x": {"field": "x", "type": "quantitative", "scale": {"domain": [-0.235, 1.215], "nice": false, "zero": false}, "axis": null},
            "y": {"field": "ba", "type": "quantitative", "stack": null, "scale": {"domain": [-0.047, 1.064], "nice": false, "zero": false}, "axis": null}}},
          {"data": {"values": [{"lo": 0.7, "hi": 1.0, "b": -0.03, "t": 1.046}]},
           "mark": {"type": "rect", "fill": "#ffffff", "fillOpacity": 0, "stroke": "#e5181c", "strokeWidth": 1.5},
           "encoding": {
            "x": {"field": "lo", "type": "quantitative", "scale": {"domain": [-0.235, 1.215], "nice": false, "zero": false}, "axis": null},
            "x2": {"field": "hi"},
            "y": {"field": "b", "type": "quantitative", "scale": {"domain": [-0.047, 1.064], "nice": false, "zero": false}, "axis": null},
            "y2": {"field": "t"}}},
          {"mark": {"type": "line", "color": "#000", "strokeWidth": 3, "interpolate": "monotone"},
           "encoding": {
            "x": {"field": "x", "type": "quantitative", "scale": {"domain": [-0.235, 1.215], "nice": false, "zero": false},
                  "axis": {"orient": "top", "values": [-0.2,-0.1,0,0.1,0.2,0.3,0.4,0.5,0.6,0.7,0.8,0.9,1,1.1,1.2], "labels": false, "title": null}},
            "y": {"field": "bf", "type": "quantitative", "scale": {"domain": [-0.047, 1.064], "nice": false, "zero": false},
                  "axis": {"orient": "right", "values": [0, 0.25, 0.5, 0.75, 1], "labels": false, "title": null}}}}
         ]
        }
       ]
      }
     ]
    },
    {
     "title": {"text": "D", "anchor": "start", "frame": "bounds", "fontSize": 24, "fontWeight": "bold", "offset": -6, "dx": -2},
     "vconcat": [
      {
       "title": {"text": "symmetric - sod1", "subtitle": ["5′-  GAGACUUGGGCAAUGUGACUU-3′", "3′-UUCUCUGAACCCGUUACACUG  -5′"],
                 "anchor": "end", "frame": "bounds", "fontSize": 21, "fontWeight": "normal", "color": "#111",
                 "subtitleFont": "Liberation Mono", "subtitleFontSize": 17.2, "subtitleColor": "#808080", "subtitleLineHeight": 17.5, "subtitlePadding": 0,
                 "offset": 32, "dx": 12},
       "bounds": "flush",
       "spacing": 16,
       "vconcat": [
        {
         "width": 274, "height": 108,
         "title": {"text": "total histogram", "anchor": "start", "frame": "group", "fontSize": 21, "fontWeight": "normal", "offset": 2, "dx": -2},
         "data": {"name": "dh"},
         "layer": [
          {"mark": {"type": "bar", "orient": "vertical", "size": 4.7, "color": "#b4a00c", "stroke": "#4d4400", "strokeWidth": 0.6},
           "encoding": {
            "x": {"field": "x", "type": "quantitative", "scale": {"domain": [-0.235, 1.215], "nice": false, "zero": false},
                  "axis": {"orient": "bottom", "values": [-0.2,-0.1,0,0.1,0.2,0.3,0.4,0.5,0.6,0.7,0.8,0.9,1,1.1,1.2], "labels": false, "title": null}},
            "y": {"field": "t", "type": "quantitative", "stack": null, "scale": {"domain": [-40, 1050], "nice": false, "zero": false},
                  "axis": {"orient": "left", "values": [0, 300, 600, 900], "labels": false, "title": null}}}},
          {"mark": {"type": "line", "color": "#000", "strokeWidth": 3, "interpolate": "monotone"},
           "encoding": {
            "x": {"field": "x", "type": "quantitative", "scale": {"domain": [-0.235, 1.215], "nice": false, "zero": false},
                  "axis": {"orient": "top", "values": [-0.2,-0.1,0,0.1,0.2,0.3,0.4,0.5,0.6,0.7,0.8,0.9,1,1.1,1.2], "labels": false, "title": null}},
            "y": {"field": "tf", "type": "quantitative", "scale": {"domain": [-40, 1050], "nice": false, "zero": false},
                  "axis": {"orient": "right", "values": [0, 300, 600, 900], "labels": false, "title": null}}}},
          {"data": {"values": [{"x": -0.147, "y": 654, "t": "0.52 ± 0.01"}, {"x": 0.394, "y": 883, "t": "0.48 ± 0.01"}]},
           "mark": {"type": "text", "fontSize": 17, "align": "left", "baseline": "middle", "color": "#111"},
           "encoding": {
            "x": {"field": "x", "type": "quantitative", "scale": {"domain": [-0.235, 1.215], "nice": false, "zero": false}, "axis": null},
            "y": {"field": "y", "type": "quantitative", "scale": {"domain": [-40, 1050], "nice": false, "zero": false}, "axis": null},
            "text": {"field": "t"}}}
         ]
        },
        {
         "width": 274, "height": 112,
         "data": {"name": "dh"},
         "layer": [
          {"mark": {"type": "bar", "orient": "vertical", "size": 4.7, "color": "#e4e4e4", "stroke": "#7a7a7a", "strokeWidth": 0.6},
           "encoding": {
            "x": {"field": "x", "type": "quantitative", "scale": {"domain": [-0.235, 1.215], "nice": false, "zero": false},
                  "axis": {"orient": "bottom", "values": [-0.2,-0.1,0,0.1,0.2,0.3,0.4,0.5,0.6,0.7,0.8,0.9,1,1.1,1.2], "labels": false, "title": null}},
            "y": {"field": "mg", "type": "quantitative", "stack": null, "scale": {"domain": [-0.063, 1.116], "nice": false, "zero": false},
                  "axis": {"orient": "left", "values": [0, 0.25, 0.5, 0.75, 1], "labels": false, "title": null}}}},
          {"mark": {"type": "bar", "orient": "vertical", "size": 4.7, "color": "#b4a00c", "stroke": "#4d4400", "strokeWidth": 0.6},
           "encoding": {
            "x": {"field": "x", "type": "quantitative", "scale": {"domain": [-0.235, 1.215], "nice": false, "zero": false}, "axis": null},
            "y": {"field": "ma", "type": "quantitative", "stack": null, "scale": {"domain": [-0.063, 1.116], "nice": false, "zero": false}, "axis": null}}},
          {"data": {"values": [{"lo": 0.2, "hi": 0.5, "b": -0.045, "t": 1.097}]},
           "mark": {"type": "rect", "fill": "#ffffff", "fillOpacity": 0, "stroke": "#e5181c", "strokeWidth": 1.5},
           "encoding": {
            "x": {"field": "lo", "type": "quantitative", "scale": {"domain": [-0.235, 1.215], "nice": false, "zero": false}, "axis": null},
            "x2": {"field": "hi"},
            "y": {"field": "b", "type": "quantitative", "scale": {"domain": [-0.063, 1.116], "nice": false, "zero": false}, "axis": null},
            "y2": {"field": "t"}}},
          {"mark": {"type": "line", "color": "#000", "strokeWidth": 3, "interpolate": "monotone"},
           "encoding": {
            "x": {"field": "x", "type": "quantitative", "scale": {"domain": [-0.235, 1.215], "nice": false, "zero": false},
                  "axis": {"orient": "top", "values": [-0.2,-0.1,0,0.1,0.2,0.3,0.4,0.5,0.6,0.7,0.8,0.9,1,1.1,1.2], "labels": false, "title": null}},
            "y": {"field": "mf", "type": "quantitative", "scale": {"domain": [-0.063, 1.116], "nice": false, "zero": false},
                  "axis": {"orient": "right", "values": [0, 0.25, 0.5, 0.75, 1], "labels": false, "title": null}}}},
          {"data": {"values": [{"x": 1.177, "y": 0.915, "t": "recurrence"}, {"x": 1.177, "y": 0.63, "t": "histograms"}]},
           "mark": {"type": "text", "fontSize": 22, "align": "right", "baseline": "middle", "color": "#111"},
           "encoding": {
            "x": {"field": "x", "type": "quantitative", "scale": {"domain": [-0.235, 1.215], "nice": false, "zero": false}, "axis": null},
            "y": {"field": "y", "type": "quantitative", "scale": {"domain": [-0.063, 1.116], "nice": false, "zero": false}, "axis": null},
            "text": {"field": "t"}}}
         ]
        },
        {
         "width": 274, "height": 110,
         "data": {"name": "dh"},
         "layer": [
          {"mark": {"type": "bar", "orient": "vertical", "size": 4.7, "color": "#e4e4e4", "stroke": "#7a7a7a", "strokeWidth": 0.6},
           "encoding": {
            "x": {"field": "x", "type": "quantitative", "scale": {"domain": [-0.235, 1.215], "nice": false, "zero": false},
                  "axis": {"orient": "bottom", "values": [-0.2,-0.1,0,0.1,0.2,0.3,0.4,0.5,0.6,0.7,0.8,0.9,1,1.1,1.2], "labelExpr": "abs(datum.value + 0.2) < 0.001 ? '-0.2' : abs(datum.value) < 0.001 ? '0' : (round(datum.value * 10) % 2 == 0 ? format(datum.value, '.1f') : '')", "title": "transfer efficiency"}},
            "y": {"field": "bg", "type": "quantitative", "stack": null, "scale": {"domain": [-0.047, 1.064], "nice": false, "zero": false},
                  "axis": {"orient": "left", "values": [0, 0.25, 0.5, 0.75, 1], "labels": false, "title": null}}}},
          {"mark": {"type": "bar", "orient": "vertical", "size": 4.7, "color": "#b4a00c", "stroke": "#4d4400", "strokeWidth": 0.6},
           "encoding": {
            "x": {"field": "x", "type": "quantitative", "scale": {"domain": [-0.235, 1.215], "nice": false, "zero": false}, "axis": null},
            "y": {"field": "ba", "type": "quantitative", "stack": null, "scale": {"domain": [-0.047, 1.064], "nice": false, "zero": false}, "axis": null}}},
          {"data": {"values": [{"lo": 0.7, "hi": 1.0, "b": -0.03, "t": 1.046}]},
           "mark": {"type": "rect", "fill": "#ffffff", "fillOpacity": 0, "stroke": "#e5181c", "strokeWidth": 1.5},
           "encoding": {
            "x": {"field": "lo", "type": "quantitative", "scale": {"domain": [-0.235, 1.215], "nice": false, "zero": false}, "axis": null},
            "x2": {"field": "hi"},
            "y": {"field": "b", "type": "quantitative", "scale": {"domain": [-0.047, 1.064], "nice": false, "zero": false}, "axis": null},
            "y2": {"field": "t"}}},
          {"mark": {"type": "line", "color": "#000", "strokeWidth": 3, "interpolate": "monotone"},
           "encoding": {
            "x": {"field": "x", "type": "quantitative", "scale": {"domain": [-0.235, 1.215], "nice": false, "zero": false},
                  "axis": {"orient": "top", "values": [-0.2,-0.1,0,0.1,0.2,0.3,0.4,0.5,0.6,0.7,0.8,0.9,1,1.1,1.2], "labels": false, "title": null}},
            "y": {"field": "bf", "type": "quantitative", "scale": {"domain": [-0.047, 1.064], "nice": false, "zero": false},
                  "axis": {"orient": "right", "values": [0, 0.25, 0.5, 0.75, 1], "labels": false, "title": null}}}}
         ]
        }
       ]
      }
     ]
    }
   ]
  }
 ]
}
